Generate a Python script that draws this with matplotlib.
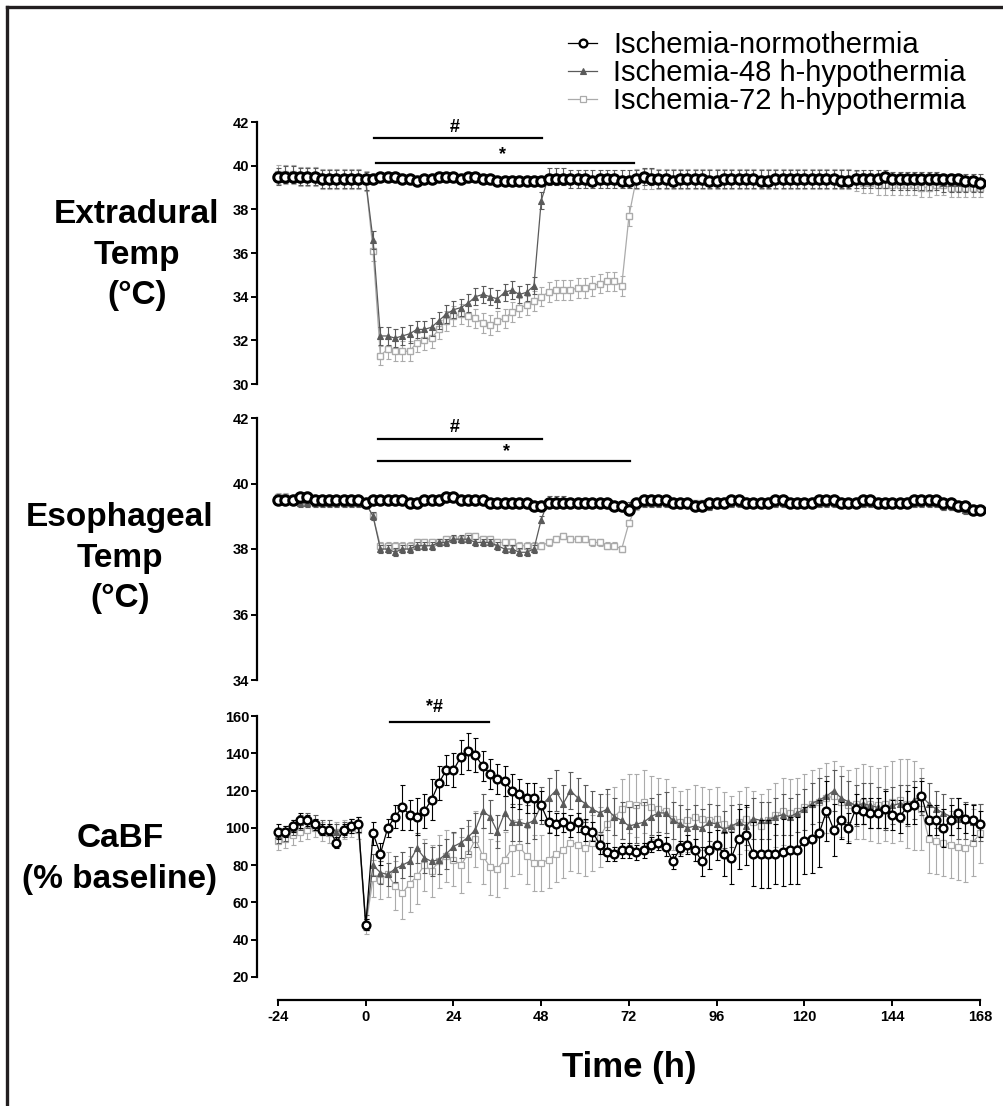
import matplotlib
matplotlib.use("Agg")
import matplotlib.pyplot as plt
from matplotlib.lines import Line2D

W, H = 1004, 1106

# time grid (h), one value every 2 h from -24 to 168
hours = list(range(-24, 169, 2))
xticks = [-24, 0, 24, 48, 72, 96, 120, 144, 168]

labels = ["Ischemia-normothermia", "Ischemia-48 h-hypothermia", "Ischemia-72 h-hypothermia"]

# ---- extradural temperature (deg C), rows of 24 h + last point
ext_norm = [39.5, 39.5, 39.5, 39.5, 39.5, 39.5, 39.4, 39.4, 39.4, 39.4, 39.4, 39.4,
            39.4, 39.4, 39.5, 39.5, 39.5, 39.4, 39.4, 39.3, 39.4, 39.4, 39.5, 39.5,
            39.5, 39.4, 39.5, 39.5, 39.4, 39.4, 39.3, 39.3, 39.3, 39.3, 39.3, 39.3,
            39.3, 39.4, 39.4, 39.4, 39.4, 39.4, 39.4, 39.3, 39.4, 39.4, 39.4, 39.3,
            39.3, 39.4, 39.5, 39.4, 39.4, 39.4, 39.3, 39.4, 39.4, 39.4, 39.4, 39.3,
            39.3, 39.4, 39.4, 39.4, 39.4, 39.4, 39.3, 39.3, 39.4, 39.4, 39.4, 39.4,
            39.4, 39.4, 39.4, 39.4, 39.4, 39.3, 39.3, 39.4, 39.4, 39.4, 39.4, 39.5,
            39.4, 39.4, 39.4, 39.4, 39.4, 39.4, 39.4, 39.4, 39.4, 39.4, 39.3, 39.3,
            39.2]
ext_48 = [39.5, 39.6, 39.6, 39.5, 39.5, 39.5, 39.4, 39.4, 39.4, 39.4, 39.4, 39.4,
          39.3, 36.6, 32.2, 32.2, 32.1, 32.2, 32.3, 32.5, 32.5, 32.6, 32.9, 33.2,
          33.4, 33.5, 33.7, 34.0, 34.1, 34.0, 33.9, 34.2, 34.3, 34.1, 34.2, 34.5,
          38.4, 39.5, 39.5, 39.5, 39.4, 39.4, 39.4, 39.4, 39.4, 39.4, 39.4, 39.4,
          39.4, 39.4, 39.5, 39.5, 39.4, 39.4, 39.4, 39.4, 39.4, 39.4, 39.4, 39.4,
          39.4, 39.4, 39.4, 39.4, 39.4, 39.4, 39.4, 39.4, 39.4, 39.4, 39.4, 39.4,
          39.4, 39.4, 39.4, 39.4, 39.4, 39.4, 39.4, 39.4, 39.4, 39.4, 39.4, 39.4,
          39.3, 39.3, 39.3, 39.3, 39.3, 39.3, 39.3, 39.2, 39.2, 39.2, 39.2, 39.2,
          39.2]
ext_72 = [39.6, 39.6, 39.6, 39.5, 39.5, 39.5, 39.4, 39.4, 39.4, 39.4, 39.4, 39.4,
          39.3, 36.1, 31.3, 31.6, 31.5, 31.5, 31.5, 31.9, 32.0, 32.1, 32.5, 32.9,
          33.1, 33.2, 33.1, 33.0, 32.8, 32.7, 32.9, 33.0, 33.3, 33.5, 33.6, 33.8,
          34.0, 34.2, 34.3, 34.3, 34.3, 34.4, 34.4, 34.5, 34.6, 34.7, 34.7, 34.5,
          37.7, 39.4, 39.4, 39.4, 39.4, 39.4, 39.4, 39.4, 39.4, 39.4, 39.4, 39.4,
          39.4, 39.4, 39.4, 39.4, 39.4, 39.4, 39.4, 39.4, 39.4, 39.4, 39.4, 39.4,
          39.4, 39.4, 39.4, 39.4, 39.4, 39.4, 39.4, 39.3, 39.2, 39.2, 39.1, 39.1,
          39.1, 39.1, 39.1, 39.1, 39.0, 39.0, 39.1, 39.1, 39.0, 39.0, 39.0, 39.0,
          39.0]
ext_err = [0.12, 0.4, 0.45]

# ---- esophageal temperature (deg C)
eso_norm = [39.5, 39.5, 39.5, 39.6, 39.6, 39.5, 39.5, 39.5, 39.5, 39.5, 39.5, 39.5,
            39.4, 39.5, 39.5, 39.5, 39.5, 39.5, 39.4, 39.4, 39.5, 39.5, 39.5, 39.6,
            39.6, 39.5, 39.5, 39.5, 39.5, 39.4, 39.4, 39.4, 39.4, 39.4, 39.4, 39.3,
            39.3, 39.4, 39.4, 39.4, 39.4, 39.4, 39.4, 39.4, 39.4, 39.4, 39.3, 39.3,
            39.2, 39.4, 39.5, 39.5, 39.5, 39.5, 39.4, 39.4, 39.4, 39.3, 39.3, 39.4,
            39.4, 39.4, 39.5, 39.5, 39.4, 39.4, 39.4, 39.4, 39.5, 39.5, 39.4, 39.4,
            39.4, 39.4, 39.5, 39.5, 39.5, 39.4, 39.4, 39.4, 39.5, 39.5, 39.4, 39.4,
            39.4, 39.4, 39.4, 39.5, 39.5, 39.5, 39.5, 39.4, 39.4, 39.3, 39.3, 39.2,
            39.2]
eso_48 = [39.5, 39.5, 39.5, 39.4, 39.4, 39.4, 39.4, 39.4, 39.4, 39.4, 39.4, 39.4,
          39.4, 39.0, 38.0, 38.0, 37.9, 38.0, 38.0, 38.1, 38.1, 38.1, 38.2, 38.2,
          38.3, 38.3, 38.3, 38.2, 38.2, 38.2, 38.1, 38.0, 38.0, 37.9, 37.9, 38.0,
          38.9, 39.5, 39.5, 39.5, 39.4, 39.4, 39.4, 39.4, 39.4, 39.4, 39.3, 39.3,
          39.3, 39.4, 39.4, 39.4, 39.4, 39.4, 39.4, 39.4, 39.4, 39.3, 39.3, 39.3,
          39.4, 39.4, 39.4, 39.4, 39.4, 39.4, 39.4, 39.4, 39.4, 39.4, 39.4, 39.4,
          39.4, 39.4, 39.4, 39.4, 39.4, 39.4, 39.4, 39.4, 39.4, 39.4, 39.4, 39.4,
          39.4, 39.4, 39.4, 39.4, 39.4, 39.4, 39.4, 39.3, 39.3, 39.3, 39.2, 39.2,
          39.2]
eso_72 = [39.6, 39.6, 39.5, 39.4, 39.4, 39.4, 39.4, 39.4, 39.4, 39.4, 39.4, 39.4,
          39.4, 39.0, 38.1, 38.1, 38.1, 38.1, 38.1, 38.2, 38.2, 38.2, 38.2, 38.3,
          38.3, 38.3, 38.4, 38.4, 38.3, 38.3, 38.2, 38.2, 38.2, 38.1, 38.1, 38.1,
          38.1, 38.2, 38.3, 38.4, 38.3, 38.3, 38.3, 38.2, 38.2, 38.1, 38.1, 38.0,
          38.8, 39.3, 39.4, 39.4, 39.4, 39.4, 39.4, 39.4, 39.4, 39.4, 39.4, 39.4,
          39.4, 39.4, 39.4, 39.4, 39.4, 39.4, 39.4, 39.4, 39.4, 39.4, 39.4, 39.4,
          39.4, 39.4, 39.4, 39.4, 39.4, 39.4, 39.4, 39.4, 39.4, 39.4, 39.4, 39.4,
          39.4, 39.4, 39.4, 39.4, 39.4, 39.4, 39.4, 39.3, 39.3, 39.3, 39.2, 39.2,
          39.2]
eso_err = [0.1, 0.12, 0.1]

# ---- carotid artery blood flow (% baseline)
cabf_norm = [98, 98, 101, 104, 104, 102, 99, 99, 92, 99, 101, 102,
             48, 97, 86, 100, 106, 111, 107, 106, 109, 115, 124, 131,
             131, 138, 141, 139, 133, 129, 126, 125, 120, 118, 116, 116,
             112, 103, 102, 103, 101, 103, 99, 98, 91, 87, 86, 88,
             88, 87, 88, 91, 92, 90, 82, 89, 91, 88, 82, 88,
             91, 86, 84, 94, 96, 86, 86, 86, 86, 87, 88, 88,
             93, 94, 97, 109, 99, 104, 100, 110, 109, 108, 108, 110,
             107, 106, 111, 112, 117, 104, 104, 100, 104, 108, 105, 104,
             102]
cabf_norm_err = [4, 3, 3, 4, 3, 3, 3, 3, 3, 3, 4, 4,
                 3, 6, 6, 5, 6, 12, 8, 10, 9, 11, 9, 8,
                 9, 9, 10, 9, 8, 8, 8, 8, 9, 8, 8, 8,
                 8, 6, 6, 5, 6, 5, 6, 5, 5, 5, 4, 4,
                 4, 4, 4, 4, 4, 5, 4, 4, 5, 6, 8, 10,
                 8, 12, 14, 16, 16, 17, 18, 18, 16, 18, 18, 18,
                 18, 18, 18, 16, 14, 10, 8, 8, 7, 8, 8, 10,
                 8, 9, 9, 10, 8, 8, 8, 10, 8, 8, 8, 8,
                 7]
cabf_48 = [96, 97, 100, 103, 104, 103, 100, 100, 98, 99, 101, 102,
           49, 80, 76, 75, 78, 80, 82, 89, 84, 82, 83, 86,
           90, 92, 95, 99, 109, 106, 98, 108, 103, 103, 102, 104,
           112, 116, 120, 113, 120, 116, 113, 110, 108, 110, 106, 104,
           101, 102, 103, 106, 108, 108, 104, 102, 100, 101, 100, 103,
           102, 99, 101, 103, 101, 105, 104, 104, 106, 107, 106, 108,
           110, 113, 115, 117, 120, 116, 114, 112, 113, 112, 111, 110,
           112, 113, 112, 115, 117, 113, 110, 108, 106, 105, 104, 103,
           103]
cabf_48_err = [4, 4, 4, 4, 4, 4, 4, 4, 4, 4, 4, 4,
               4, 6, 6, 6, 7, 7, 8, 8, 8, 8, 8, 8,
               8, 8, 9, 9, 9, 9, 9, 9, 10, 10, 10, 10,
               10, 11, 11, 10, 10, 11, 10, 10, 10, 11, 10, 10,
               10, 10, 11, 10, 10, 11, 10, 10, 10, 11, 10, 10,
               10, 10, 11, 10, 10, 11, 10, 10, 10, 11, 10, 10,
               11, 11, 12, 11, 11, 12, 11, 11, 11, 12, 11, 11,
               10, 10, 11, 10, 10, 11, 10, 10, 10, 11, 10, 10,
               10]
cabf_72 = [93, 94, 96, 98, 99, 100, 98, 97, 98, 99, 100, 99,
           47, 73, 72, 75, 69, 65, 70, 74, 80, 77, 82, 85,
           83, 80, 86, 94, 85, 79, 78, 83, 89, 90, 85, 81,
           81, 83, 86, 88, 92, 91, 89, 92, 95, 102, 106, 110,
           113, 112, 114, 111, 110, 109, 105, 103, 104, 106, 105, 104,
           105, 102, 100, 103, 105, 103, 101, 104, 107, 109, 108, 109,
           111, 113, 114, 116, 117, 114, 112, 113, 114, 113, 112, 113,
           114, 115, 113, 112, 110, 94, 93, 92, 91, 90, 89, 92,
           97]
cabf_72_err = [5, 5, 5, 5, 5, 5, 5, 5, 5, 5, 5, 5,
               4, 10, 10, 12, 13, 14, 15, 15, 14, 14, 14, 14,
               14, 15, 15, 15, 15, 15, 15, 15, 15, 15, 15, 15,
               15, 15, 15, 15, 15, 15, 15, 15, 16, 16, 16, 16,
               16, 17, 17, 17, 17, 17, 17, 17, 17, 17, 17, 17,
               17, 17, 17, 17, 17, 17, 17, 17, 17, 18, 18, 18,
               18, 18, 18, 19, 19, 19, 19, 19, 20, 20, 20, 20,
               22, 22, 24, 24, 22, 18, 18, 18, 18, 18, 18, 18,
               16]

NARROW = ["Liberation Sans Narrow", "Liberation Sans", "DejaVu Sans"]
ARIAL = ["Liberation Sans", "DejaVu Sans"]
plt.rcParams["font.family"] = ARIAL

fig = plt.figure(figsize=(W / 100, H / 100), dpi=100)

PX_PER_H = (980 - 278) / 192.0
x_lo = -24 - (278 - 257) / PX_PER_H
x_hi = 168 + (985 - 980) / PX_PER_H


def make_axes(top_px, bot_px):
    ax = fig.add_axes([257 / W, 1 - bot_px / H, (985 - 257) / W, (bot_px - top_px) / H])
    ax.set_xlim(x_lo, x_hi)
    for s in ("top", "right"):
        ax.spines[s].set_visible(False)
    ax.spines["left"].set_linewidth(1.6)
    ax.spines["bottom"].set_linewidth(1.6)
    ax.tick_params(axis="y", direction="out", length=4, width=1.4, pad=1.5,
                   labelsize=10.5)
    return ax


GREY1 = "#5a5a5a"
GREY2 = "#ababab"

# marker styles: (temperature panels, CaBF panel)
temp_styles = [
    dict(color="black", marker="o", ms=6.8, mfc="white", mec="black", mew=2.2, lw=0.9, z=5),
    dict(color=GREY1, marker="^", ms=4.0, mfc=GREY1, mec=GREY1, mew=0.8, lw=0.9, z=4),
    dict(color=GREY2, marker="s", ms=4.4, mfc="white", mec=GREY2, mew=1.0, lw=0.9, z=3),
]
cabf_styles = [
    dict(color="black", marker="o", ms=5.6, mfc="white", mec="black", mew=1.7, lw=0.9, z=5),
    dict(color=GREY1, marker="^", ms=3.8, mfc=GREY1, mec=GREY1, mew=0.8, lw=0.9, z=4),
    dict(color=GREY2, marker="s", ms=4.2, mfc="white", mec=GREY2, mew=0.9, lw=0.9, z=3),
]


def draw_series(ax, series, errs, styles):
    lines = []
    for i in (2, 1, 0):
        st = styles[i]
        ax.errorbar(hours, series[i], yerr=errs[i], fmt="none", ecolor=st["color"],
                    elinewidth=0.8, capsize=1.8, capthick=0.8, zorder=st["z"])
        ln, = ax.plot(hours, series[i], color=st["color"], lw=st["lw"], marker=st["marker"],
                      ms=st["ms"], mfc=st["mfc"], mec=st["mec"], mew=st["mew"], zorder=st["z"])
        lines.append(ln)
    return lines[::-1]


def sig_bar(ax, x0, x1, y, text, tx, ty):
    ax.plot([x0, x1], [y, y], color="black", lw=1.6, clip_on=False, zorder=6)
    ax.text(tx, ty, text, ha="center", va="center", fontsize=13, fontweight="bold",
            family=ARIAL, clip_on=False)


def bold_ticks(ax):
    for lab in ax.get_yticklabels() + ax.get_xticklabels():
        lab.set_family(NARROW)
        lab.set_fontweight("bold")


# top panel
ax1 = make_axes(122, 384)
ax1.set_ylim(30, 42)
ax1.set_yticks([30, 32, 34, 36, 38, 40, 42])
ax1.spines["bottom"].set_visible(False)
ax1.set_xticks([])
draw_series(ax1, [ext_norm, ext_48, ext_72],
            [[ext_err[0]] * len(hours), [ext_err[1]] * len(hours),
             [ext_err[2]] * len(hours)], temp_styles)
sig_bar(ax1, 2.3, 48.2, 41.27, "#", 24.4, 41.73)
sig_bar(ax1, 2.8, 73.4, 40.12, "*", 37.3, 40.53)
bold_ticks(ax1)

# middle panel
ax2 = make_axes(418, 680)
ax2.set_ylim(34, 42)
ax2.set_yticks([34, 36, 38, 40, 42])
ax2.spines["bottom"].set_visible(False)
ax2.set_xticks([])
draw_series(ax2, [eso_norm, eso_48, eso_72],
            [[eso_err[0]] * len(hours), [eso_err[1]] * len(hours),
             [eso_err[2]] * len(hours)], temp_styles)
sig_bar(ax2, 3.3, 48.2, 41.36, "#", 24.4, 41.72)
sig_bar(ax2, 3.3, 72.3, 40.69, "*", 38.6, 40.97)
bold_ticks(ax2)

# bottom panel
ax3 = make_axes(716, 977)
ax3.set_ylim(20, 160)
ax3.set_yticks([20, 40, 60, 80, 100, 120, 140, 160])
ax3.spines["bottom"].set_bounds(-24, 168)
ax3.spines["bottom"].set_position(("outward", 16.5))
ax3.set_xticks(xticks)
ax3.set_xticklabels([str(v) for v in xticks])
ax3.tick_params(axis="x", direction="out", length=4, width=1.4, pad=3, labelsize=10.5)
cabf_lines = draw_series(ax3, [cabf_norm, cabf_48, cabf_72],
                         [cabf_norm_err, cabf_48_err, cabf_72_err], cabf_styles)
sig_bar(ax3, 6.6, 33.7, 156.8, "*#", 18.9, 164.5)
bold_ticks(ax3)

# panel labels
fig.text(137 / W, 1 - 255 / H, "Extradural\nTemp\n(\u00b0C)", ha="center", va="center",
         fontsize=24, fontweight="bold", linespacing=1.4, family=ARIAL)
fig.text(120 / W, 1 - 558 / H, "Esophageal\nTemp\n(\u00b0C)", ha="center", va="center",
         fontsize=24, fontweight="bold", linespacing=1.4, family=ARIAL)
fig.text(120 / W, 1 - 859 / H, "CaBF\n(% baseline)", ha="center", va="center",
         fontsize=24, fontweight="bold", linespacing=1.4, family=ARIAL)
fig.text(629 / W, 1 - 1068 / H, "Time (h)", ha="center", va="center",
         fontsize=25, fontweight="bold", family=NARROW)

# legend
fig.legend(cabf_lines, labels, loc="upper left", bbox_to_anchor=(568 / W, 1 - 31 / H),
           frameon=False, fontsize=21, handlelength=1.0, handletextpad=0.55,
           labelspacing=0.0, borderaxespad=0, borderpad=0)

# page frame (top and left edges)
fig.add_artist(Line2D([7 / W, 1], [1 - 6.5 / H, 1 - 6.5 / H], transform=fig.transFigure,
                      color="#231f20", lw=2.4))
fig.add_artist(Line2D([7.5 / W, 7.5 / W], [0, 1 - 6.5 / H], transform=fig.transFigure,
                      color="#231f20", lw=2.4))

fig.savefig("out.png", dpi=100)
